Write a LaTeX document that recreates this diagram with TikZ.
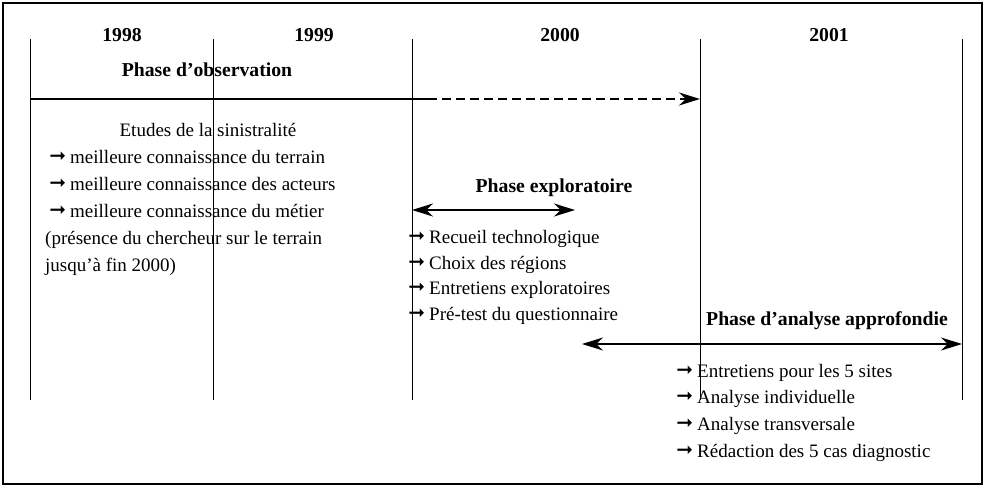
\documentclass[tikz,border=0pt]{standalone}
\usepackage{fontspec}
\setmainfont{Liberation Serif}
\newfontfamily\arrfont{DejaVu Sans}
\newcommand\itemarr{\llap{\raisebox{0.5pt}{\arrfont\fontsize{20}{20}\selectfont ➞}\hspace{4pt}}}
\usetikzlibrary{arrows.meta}
\begin{document}
\begin{tikzpicture}[x=1pt,y=-1pt,
  txt/.style={inner sep=0pt, font=\fontsize{19}{22}\selectfont},
  hd/.style={inner sep=0pt, font=\fontsize{19.7}{22}\selectfont\bfseries},
  vline/.style={line width=0.8pt},
  phase/.style={line width=2pt},
  tipr/.style={-{Stealth[length=21pt,width=13pt]}},
  tipb/.style={{Stealth[length=21pt,width=13pt]}-{Stealth[length=21pt,width=13pt]}}]
\useasboundingbox (0,0) rectangle (986,487);
\draw[line width=1.3pt] (3,3) rectangle (982,484);
% vertical year separators
\foreach \i/\x in {1/30,2/213,3/412,4/700,5/962}{
  \coordinate (v\i t) at (\x,39);
  \coordinate (v\i b) at (\x,400);
  \draw[vline] (v\i t) -- (v\i b);
}
% years
\node[hd, anchor=base] (y1998) at (122,42) {1998};
\node[hd, anchor=base] (y1999) at (314,42) {1999};
\node[hd, anchor=base] (y2000) at (560,42) {2000};
\node[hd, anchor=base] (y2001) at (829,42) {2001};
% phase d'observation
\node[hd, anchor=base] (pobs) at (207,77) {Phase d'observation};
\coordinate (o1) at (30,99);
\coordinate (o2) at (428,99);
\coordinate (o3) at (700,99);
\draw[phase] (o1) -- (o2);
\draw[phase, dash pattern=on 9pt off 5pt, tipr] (o2) -- (o3);
\node[txt, anchor=base] (etudes) at (208,136) {Etudes de la sinistralité};
\node[txt, anchor=base west] (m1) at (70,163) {\itemarr meilleure connaissance du terrain};
\node[txt, anchor=base west] (m2) at (70,190) {\itemarr meilleure connaissance des acteurs};
\node[txt, anchor=base west] (m3) at (70,217) {\itemarr meilleure connaissance du métier};
\node[txt, anchor=base west] (m4) at (45,244) {(présence du chercheur sur le terrain};
\node[txt, anchor=base west] (m5) at (45,271) {jusqu'à fin 2000)};
% phase exploratoire
\node[hd, anchor=base] (pexp) at (554,192) {Phase exploratoire};
\coordinate (e1) at (412,210);
\coordinate (e2) at (575,210);
\draw[phase, tipb] (e1) -- (e2);
\node[txt, anchor=base west] (x1) at (429,243) {\itemarr Recueil technologique};
\node[txt, anchor=base west] (x2) at (429,269) {\itemarr Choix des régions};
\node[txt, anchor=base west] (x3) at (429,294) {\itemarr Entretiens exploratoires};
\node[txt, anchor=base west] (x4) at (429,320) {\itemarr Pré-test du questionnaire};
% phase d'analyse approfondie
\node[hd, anchor=base] (pana) at (827,325) {Phase d'analyse approfondie};
\coordinate (a1) at (582,344);
\coordinate (a2) at (962,344);
\draw[phase, tipb] (a1) -- (a2);
\node[txt, anchor=base west] (z1) at (697,377) {\itemarr Entretiens pour les 5 sites};
\node[txt, anchor=base west] (z2) at (697,403) {\itemarr Analyse individuelle};
\node[txt, anchor=base west] (z3) at (697,430) {\itemarr Analyse transversale};
\node[txt, anchor=base west] (z4) at (697,457) {\itemarr Rédaction des 5 cas diagnostic};
\end{tikzpicture}
\end{document}
